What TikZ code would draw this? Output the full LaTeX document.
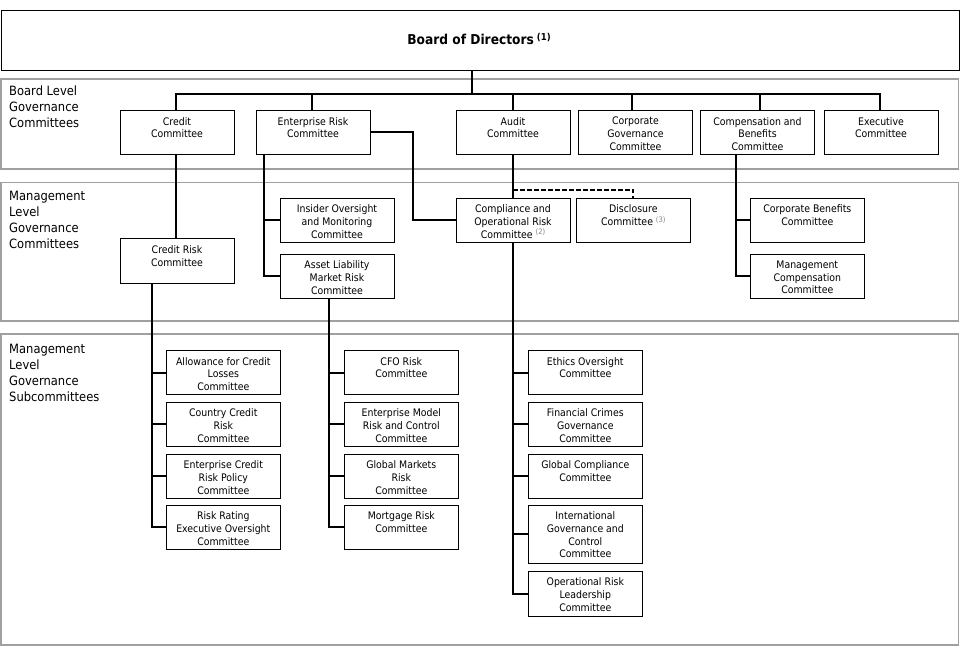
\documentclass[tikz,border=0pt]{standalone}
\usepackage{fontspec}
\setmainfont{DejaVu Sans}[FakeStretch=0.9]
\usetikzlibrary{calc}
\definecolor{bandgray}{RGB}{160,160,160}
\definecolor{notegray}{RGB}{130,130,130}
\newcommand\boxfont{\fontsize{10.4}{12.6}\selectfont}
\newcommand\lblfont{\fontsize{12.8}{16}\selectfont}
\newcommand\fnote[1]{{\color{notegray}\fontsize{7.5}{8}\selectfont\raisebox{3.5pt}{#1}}}
\tikzset{
  cbox/.style={draw=black, line width=1pt, fill=white, minimum width=114pt, minimum height=#1, inner sep=0pt, outer sep=0pt, anchor=north west},
  cbox/.default=44pt,
  ctext/.style={anchor=north, yshift=-6.5pt, align=center, inner sep=0pt, font=\boxfont},
  band/.style={draw=bandgray, line width=1.2pt},
  bandlabel/.style={anchor=north west, align=left, inner sep=0pt, font=\lblfont},
  conn/.style={line width=2pt},
  dconn/.style={line width=2pt, dash pattern=on 4.5pt off 2.5pt},
}
\newcommand\cb[5][44pt]{\node[cbox=#1, label={[ctext]north:{#5}}] (#2) at (#3,#4) {};}
\begin{document}
\begin{tikzpicture}[x=1pt,y=-1pt]
\useasboundingbox (0,0) rectangle (960,652);
% bands
\draw[band] (1,79) rectangle (958.5,169);
\draw[band] (1,182.3) rectangle (958.5,321);
\draw[band] (1,334) rectangle (958.5,645);
\node[bandlabel] (l1) at (9,86) {Board Level\\Governance\\Committees};
\node[bandlabel] (l2) at (9,191) {Management\\Level\\Governance\\Committees};
\node[bandlabel] (l3) at (9,344) {Management\\Level\\Governance\\Subcommittees};
% board
\node[draw=black, line width=1pt, minimum width=958.5pt, minimum height=60pt, anchor=north west, inner sep=0pt] (board) at (0.5,10) {};
\node[anchor=base, inner sep=0pt, font=\fontsize{13.6}{16}\selectfont\bfseries] (boardtxt) at (479,44.7) {Board of Directors\hspace{3pt}\raisebox{4pt}{\fontsize{9.5}{10}\selectfont(1)}};
% board-level committees
\cb{credit}{120}{110.5}{Credit\\Committee}
\cb{erc}{256}{110.5}{Enterprise Risk\\Committee}
\cb{audit}{456}{110.5}{Audit\\Committee}
\cb{cg}{578.5}{110.5}{Corporate\\Governance\\Committee}
\cb{cb}{700.5}{110.5}{Compensation and\\Benefits\\Committee}
\cb{exec}{824}{110.5}{Executive\\Committee}
% management-level committees
\cb{crisk}{120}{239}{Credit Risk\\Committee}
\cb{insider}{280}{198.3}{Insider Oversight\\and Monitoring\\Committee}
\cb{alm}{280}{254.3}{Asset Liability\\Market Risk\\Committee}
\cb{comp}{456}{198.3}{Compliance and\\Operational Risk\\Committee \fnote{(2)}}
\cb{disc}{576.3}{198.3}{Disclosure\\Committee \fnote{(3)}}
\cb{cben}{750.3}{198.3}{Corporate Benefits\\Committee}
\cb{mcomp}{750.3}{254.3}{Management\\Compensation\\Committee}
% subcommittees
\cb{acl}{166.3}{350.7}{Allowance for Credit\\Losses\\Committee}
\cb{ccr}{166.3}{402.3}{Country Credit\\Risk\\Committee}
\cb{ecrp}{166.3}{454.3}{Enterprise Credit\\Risk Policy\\Committee}
\cb{rreo}{166.3}{505.3}{Risk Rating\\Executive Oversight\\Committee}
\cb{cfo}{344.3}{350.7}{CFO Risk\\Committee}
\cb{emrc}{344.3}{402.3}{Enterprise Model\\Risk and Control\\Committee}
\cb{gmr}{344.3}{454.3}{Global Markets\\Risk\\Committee}
\cb{mrc}{344.3}{505.3}{Mortgage Risk\\Committee}
\cb{eth}{528.3}{350.7}{Ethics Oversight\\Committee}
\cb{fcg}{528.3}{402.3}{Financial Crimes\\Governance\\Committee}
\cb{gcc}{528.3}{454.3}{Global Compliance\\Committee}
\cb[58pt]{igc}{528.3}{505.3}{International\\Governance and\\Control\\Committee}
\cb[45pt]{orl}{528.3}{571.3}{Operational Risk\\Leadership\\Committee}
% connectors
\coordinate (trunk) at (472,94);
\coordinate (elbow) at (413,0);
\coordinate (dashy) at (0,190);
\draw[conn] (board.south -| trunk) -- (trunk);
\draw[conn] ([xshift=-1pt]credit.north) -- ([xshift=-1pt]credit.north |- trunk) -- ([xshift=-1pt]exec.north |- trunk) -- ([xshift=-1pt]exec.north);
\draw[conn] ([xshift=-1pt]erc.north |- trunk) -- ([xshift=-1pt]erc.north);
\draw[conn] (audit.north |- trunk) -- (audit.north);
\draw[conn] ([xshift=-3.5pt]cg.north |- trunk) -- ([xshift=-3.5pt]cg.north);
\draw[conn] ([xshift=2.5pt]cb.north |- trunk) -- ([xshift=2.5pt]cb.north);
\draw[conn] ([xshift=-1pt]credit.south) -- ([xshift=-1pt]crisk.north);
\draw[conn] ([xshift=-49pt]erc.south) |- (insider.west);
\draw[conn] ([xshift=-49pt]erc.south) |- (alm.west);
\draw[conn] (erc.east) -| (elbow |- comp.west) -- (comp.west);
\draw[conn] (audit.south) -- (comp.north);
\draw[dconn] (comp.north |- dashy) -| (disc.north);
\draw[conn] ([xshift=-21.5pt]cb.south) |- (cben.west);
\draw[conn] ([xshift=-21.5pt]cb.south) |- (mcomp.west);
\foreach \t in {acl,ccr,ecrp,rreo} \draw[conn] ([xshift=-25pt]crisk.south) |- (\t.west);
\foreach \t in {cfo,emrc,gmr,mrc} \draw[conn] ([xshift=-8.5pt]alm.south) |- (\t.west);
\foreach \t in {eth,fcg,gcc,igc,orl} \draw[conn] (comp.south) |- (\t.west);
\end{tikzpicture}
\end{document}
